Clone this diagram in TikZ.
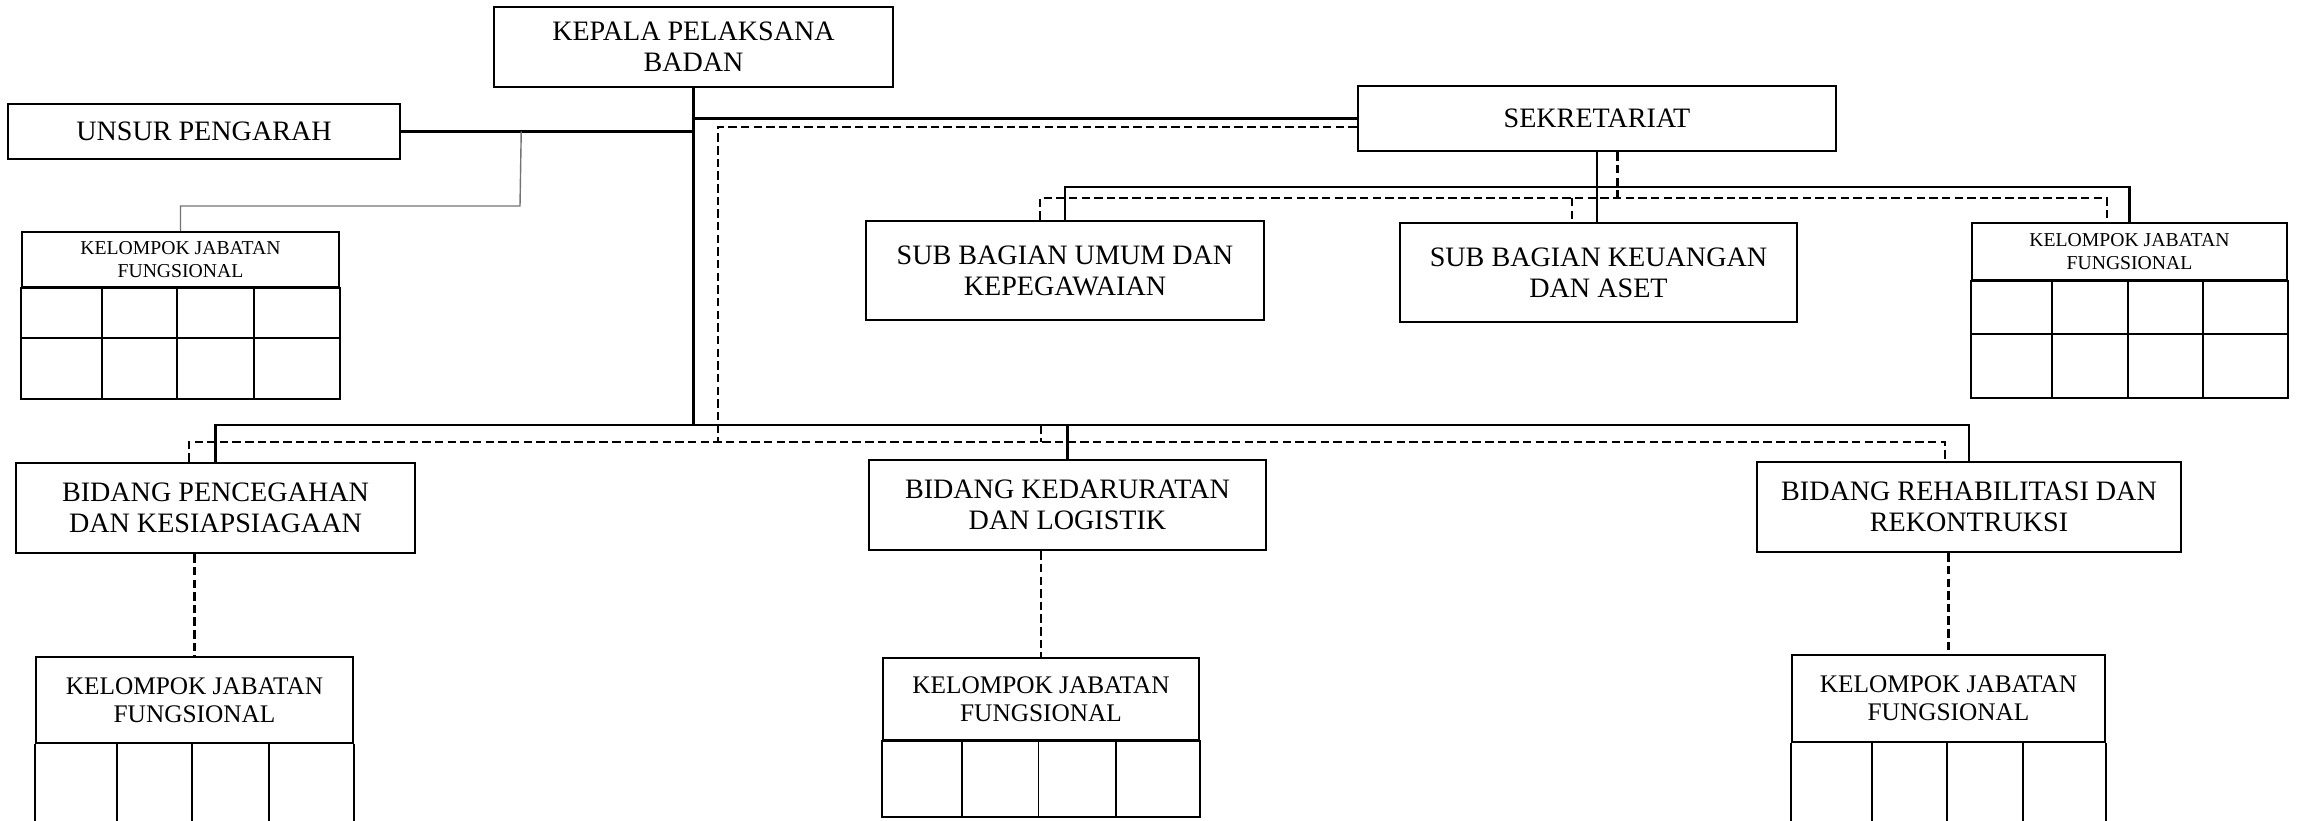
\documentclass[tikz,border=0pt]{standalone}
\usepackage{fontspec}
\setmainfont{Liberation Serif}
\usetikzlibrary{positioning}
\tikzset{
    unit/.style={draw,line width=0.7pt,align=center,inner sep=1pt,font=\fontsize{8}{8.8}\selectfont},
    kjf/.style={draw,line width=0.7pt,align=center,inner sep=1pt,font=\fontsize{7.2}{7.9}\selectfont},
    kjfsmall/.style={draw,line width=0.7pt,align=center,inner sep=1pt,font=\fontsize{5.6}{6.4}\selectfont},
    solidlink/.style={-,line width=0.6pt},
    dashlink/.style={-,line width=0.6pt,dash pattern=on 2.4pt off 1.2pt},
    greylink/.style={-,line width=0.4pt,black!55},
    cell/.style={line width=0.5pt},
    frame/.style={line width=0.7pt}
}

\begin{document}
\begin{tikzpicture}
    \useasboundingbox (0,0) rectangle (22.97,-8.21);

    % pimpinan
    \node[unit,minimum width=3.99cm,minimum height=0.80cm] (kepala) at (6.935,-0.47) {KEPALA PELAKSANA\\BADAN};
    \node[unit,minimum width=3.92cm,minimum height=0.55cm] (unsur) at (2.04,-1.315) {UNSUR PENGARAH};
    \node[unit,minimum width=4.78cm,minimum height=0.65cm] (sek) at (15.97,-1.185) {SEKRETARIAT};

    % sekretariat
    \node[unit,minimum width=3.98cm,minimum height=0.99cm] (subumum) at (10.65,-2.705) {SUB BAGIAN UMUM DAN\\KEPEGAWAIAN};
    \node[unit,minimum width=3.97cm,minimum height=0.99cm] (subkeu)  at (15.985,-2.725) {SUB BAGIAN KEUANGAN\\DAN ASET};
    \node[kjfsmall,minimum width=3.15cm,minimum height=0.57cm] (kjfsek) at (21.295,-2.515) {KELOMPOK JABATAN\\FUNGSIONAL};
    \draw[frame] (kjfsek.south west) rectangle ([yshift=-1.17cm]kjfsek.south east);
    \draw[cell] ([yshift=-0.53cm]kjfsek.south west) -- ([yshift=-0.53cm]kjfsek.south east);
    \foreach \x in {0.81,1.57,2.32}
        \draw[cell] ([xshift=\x cm]kjfsek.south west) -- ++(0,-1.17);

    % kelompok unsur pengarah
    \node[kjfsmall,minimum width=3.17cm,minimum height=0.55cm] (kjfunsur) at (1.805,-2.595) {KELOMPOK JABATAN\\FUNGSIONAL};
    \draw[frame] (kjfunsur.south west) rectangle ([yshift=-1.11cm]kjfunsur.south east);
    \draw[cell] ([yshift=-0.50cm]kjfunsur.south west) -- ([yshift=-0.50cm]kjfunsur.south east);
    \foreach \x in {0.81,1.565,2.335}
        \draw[cell] ([xshift=\x cm]kjfunsur.south west) -- ++(0,-1.11);

    % bidang
    \node[unit,minimum width=3.99cm,minimum height=0.90cm] (pencegahan)  at (2.155,-5.08) {BIDANG PENCEGAHAN\\DAN KESIAPSIAGAAN};
    \node[unit,minimum width=3.97cm,minimum height=0.90cm] (kedaruratan) at (10.675,-5.05) {BIDANG KEDARURATAN\\DAN LOGISTIK};
    \node[unit,minimum width=4.24cm,minimum height=0.90cm] (rehab)       at (19.69,-5.07) {BIDANG REHABILITASI DAN\\REKONTRUKSI};

    % kelompok jabatan fungsional bidang
    \node[kjf,minimum width=3.17cm,minimum height=0.86cm] (kjfa) at (1.945,-7.0) {KELOMPOK JABATAN\\FUNGSIONAL};
    \draw[frame] (kjfa.south west) -- ++(0,-0.9) (kjfa.south east) -- ++(0,-0.9);
    \foreach \x in {0.82,1.57,2.34}
        \draw[cell] ([xshift=\x cm]kjfa.south west) -- ++(0,-0.9);

    \node[kjf,minimum width=3.16cm,minimum height=0.82cm] (kjfb) at (10.41,-6.99) {KELOMPOK JABATAN\\FUNGSIONAL};
    \draw[frame] (kjfb.south west) rectangle ([yshift=-0.76cm]kjfb.south east);
    \foreach \x in {0.80,1.566,2.34}
        \draw[cell] ([xshift=\x cm]kjfb.south west) -- ++(0,-0.76);

    \node[kjf,minimum width=3.13cm,minimum height=0.87cm] (kjfc) at (19.485,-6.985) {KELOMPOK JABATAN\\FUNGSIONAL};
    \draw[frame] (kjfc.south west) -- ++(0,-0.9) (kjfc.south east) -- ++(0,-0.9);
    \foreach \x in {0.81,1.56,2.32}
        \draw[cell] ([xshift=\x cm]kjfc.south west) -- ++(0,-0.9);

    % garis komando
    \path (kepala.south) ++(0,-3.37) coordinate (bus);
    \draw[solidlink] (kepala.south) -- (bus);
    \draw[solidlink] (kepala.south |- sek.west) -- (sek.west);
    \draw[solidlink] (unsur.east) -- (kepala.south |- unsur.east);
    \draw[solidlink] (pencegahan.north) |- (rehab.north |- bus) -- (rehab.north);
    \draw[solidlink] (kedaruratan.north |- bus) -- (kedaruratan.north);

    \path (unsur.east) ++(1.2,0) coordinate (ujoint);
    \coordinate (ubend) at (5.20,-2.06);
    \draw[greylink] (ujoint) -- (ubend) -| (kjfunsur.north);

    \path (sek.south) ++(0,-0.347) coordinate (sbus);
    \draw[solidlink] (sek.south) -- (sek.south |- subkeu.north);
    \draw[solidlink] (subumum.north) |- (kjfsek.north |- sbus) -- (kjfsek.north);

    % garis koordinasi
    \coordinate (dtrunk) at (7.18,-4.42);
    \coordinate (dl) at (1.89,-4.42);
    \coordinate (dr) at (19.45,-4.42);
    \draw[dashlink] ([yshift=-0.085cm]sek.west) -| (dtrunk);
    \draw[dashlink] (pencegahan.north -| dl) -- (dl) -- (dr) -- (rehab.north -| dr);
    \draw[dashlink] (kjfb.north |- bus) -- (kjfb.north |- dl);

    \coordinate (sdl) at (10.40,-1.98);
    \coordinate (sdm) at (15.72,-1.98);
    \coordinate (sdr) at (21.07,-1.98);
    \draw[dashlink] ([xshift=0.205cm]sek.south) -- ([xshift=0.205cm]sek.south |- sdl);
    \draw[dashlink] (subumum.north -| sdl) -- (sdl) -- (sdr) -- (kjfsek.north -| sdr);
    \draw[dashlink] (sdm) -- (sdm |- subkeu.north);

    \draw[dashlink] (pencegahan.south -| kjfa.north) -- (kjfa.north);
    \draw[dashlink] (kedaruratan.south -| kjfb.north) -- (kjfb.north);
    \draw[dashlink] (rehab.south -| kjfc.north) -- (kjfc.north);
\end{tikzpicture}
\end{document}
